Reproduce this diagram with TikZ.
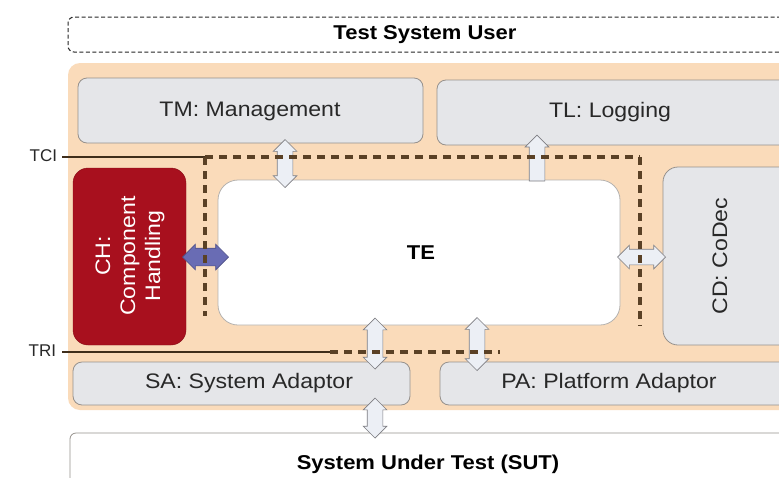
\documentclass[tikz,border=0pt]{standalone}
\usepackage{fontspec}
\setmainfont{Liberation Sans}
\newfontfamily\widesans[FakeStretch=1.1]{Liberation Sans}
\usetikzlibrary{shapes.arrows}
\definecolor{peach}{RGB}{250,219,186}
\definecolor{boxfill}{RGB}{229,230,233}
\definecolor{boxborder}{RGB}{150,145,140}
\definecolor{chred}{RGB}{168,16,30}
\definecolor{arrowfill}{RGB}{236,239,245}
\definecolor{arrowborder}{RGB}{125,125,130}
\definecolor{bluearrow}{RGB}{105,108,180}
\definecolor{dashbrown}{RGB}{90,65,38}
\definecolor{textgray}{RGB}{40,40,40}
\begin{document}
\begin{tikzpicture}[x=1pt,y=-1pt,
  every node/.style={inner sep=0pt, outer sep=0pt},
  gbox/.style={draw=boxborder, fill=boxfill, rounded corners=9pt, line width=0.8pt},
  lbl/.style={font=\widesans\fontsize{21}{25}\selectfont, text=textgray},
  blbl/.style={font=\widesans\fontsize{20}{24}\selectfont\bfseries, text=black},
  ilbl/.style={font=\fontsize{17}{20}\selectfont, text=textgray},
  barrow/.style={double arrow, draw=arrowborder, fill=arrowfill, line width=0.7pt,
    text height=0pt, text depth=0pt, inner xsep=0pt, inner ysep=7.5pt,
    double arrow head extend=4pt},
  sarrow/.style={single arrow, draw=arrowborder, fill=arrowfill, line width=0.7pt,
    text height=0pt, text depth=0pt, inner xsep=0pt, inner ysep=7.5pt,
    single arrow head extend=4pt},
  solidl/.style={draw=dashbrown!70!black, line width=2.4pt},
  dashl/.style={draw=dashbrown, line width=3.4pt, dash pattern=on 8pt off 6pt}]
\useasboundingbox (0,0) rectangle (779,477);
\clip (0,0) rectangle (779,477);
\fill[white] (0,0) rectangle (779,477);
% Test system user
\node[draw=black!85, line width=1pt, dash pattern=on 4pt off 2.5pt, rounded corners=6pt, fill=white,
  minimum width=732pt, minimum height=35pt] (tsu) at (434,34.5) {};
\node[blbl] (tsutext) at (425,35) {Test System User};
% peach area
\node[fill=peach, rounded corners=12pt, minimum width=732pt, minimum height=347pt] (area) at (434,236.5) {};
% TM and TL
\node[gbox, minimum width=345pt, minimum height=65pt] (tm) at (250.5,110.5) {};
\node[lbl] (tmtext) at (250,111) {TM: Management};
\node[gbox, minimum width=363pt, minimum height=65pt] (tl) at (618.5,112.5) {};
\node[lbl] (tltext) at (610,112) {TL: Logging};
% CH
\node[fill=chred, draw=chred!80!black, rounded corners=15pt, minimum width=113pt, minimum height=177pt] (ch) at (129.5,256.5) {};
\node[lbl, text=white, rotate=90, align=center] (chtext) at (130,256) {CH:\\Component\\Handling};
% TE
\node[draw=boxborder!70, fill=white, rounded corners=20pt, line width=0.8pt, minimum width=402pt, minimum height=145pt] (te) at (419,252.5) {};
\node[blbl] (tetext) at (421,253) {TE};
% CD
\node[gbox, rounded corners=15pt, minimum width=137pt, minimum height=178pt] (cd) at (731.5,256) {};
\node[lbl, rotate=90] (cdtext) at (720,256) {CD: CoDec};
% SA and PA
\node[gbox, minimum width=337pt, minimum height=43pt] (sa) at (241.5,383.5) {};
\node[lbl] (satext) at (249,383) {SA: System Adaptor};
\node[gbox, minimum width=360pt, minimum height=43pt] (pa) at (620,383.5) {};
\node[lbl] (patext) at (609,383) {PA: Platform Adaptor};
% SUT
\node[draw=boxborder, fill=white, line width=0.8pt, rounded corners=6pt, minimum width=730pt, minimum height=70pt] (sut) at (435,468) {};
\node[blbl] (suttext) at (428,464) {System Under Test (SUT)};
% block arrows
\node[barrow, rotate=90, minimum height=48pt] (a1) at (285,163.5) {};
\node[sarrow, rotate=90, minimum height=46pt] (a2) at (537,162) {};
\node[barrow, draw=bluearrow!75!black, fill=bluearrow, inner ysep=8.5pt, minimum height=46pt] (a3) at (205.5,257) {};
\node[barrow, minimum height=48pt] (a4) at (641.5,257) {};
\node[barrow, rotate=90, minimum height=51pt] (a5) at (375,343.5) {};
\node[barrow, rotate=90, minimum height=53pt] (a6) at (477,344) {};
\node[barrow, rotate=90, minimum height=40pt] (a7) at (375,418) {};
% interface lines
\coordinate (tcis) at (62,157);
\coordinate (tcia) at (205,157);
\coordinate (tcib) at (640,157);
\coordinate (tcil) at (205,316);
\coordinate (tcir) at (640,326);
\coordinate (tris) at (62,352);
\coordinate (tria) at (330,352);
\coordinate (trib) at (500,352);
\draw[solidl] (tcis) -- (tcia);
\draw[dashl] (tcia) -- (tcib);
\draw[dashl] (tcia) -- (tcil);
\draw[dashl] (tcib) -- (tcir);
\draw[solidl] (tris) -- (tria);
\draw[dashl] (tria) -- (trib);
\node[ilbl, anchor=east] (tci) at (57,156) {TCI};
\node[ilbl, anchor=east] (tri) at (56,351) {TRI};
\end{tikzpicture}
\end{document}
